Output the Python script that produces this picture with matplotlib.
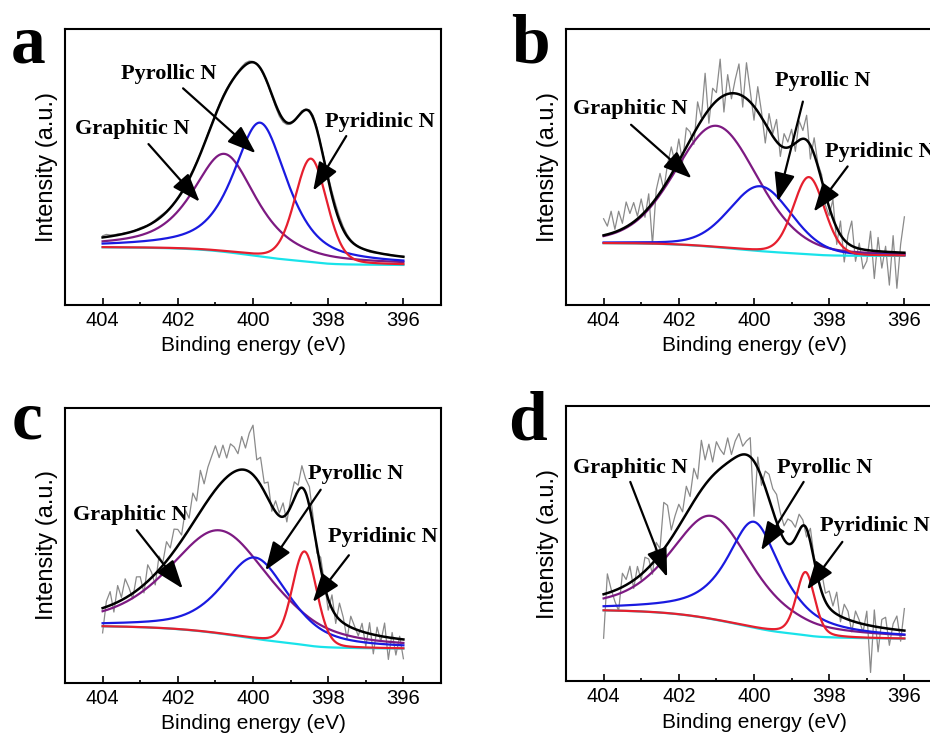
import numpy as np
import matplotlib.pyplot as plt

plt.rcParams['font.family'] = 'Liberation Sans'

# raw spectra are sampled every 0.1 eV from 404 down to 396 eV
be_raw = np.round(np.arange(404.0, 395.95, -0.1), 2)

letters = ["a", "b", "c", "d"]

# fitted components:
# centre (eV), height (a.u.), FWHM (eV), lorentzian fraction
graphitic_center = [400.76, 401.00, 400.87, 401.13]
graphitic_height = [35.5, 44.0, 37.5, 37.5]
graphitic_fwhm = [2.0, 2.6, 3.2, 2.6]
graphitic_eta = [0.7, 0.25, 0.55, 0.6]

pyrollic_center = [399.81, 399.83, 399.94, 400.0]
pyrollic_height = [48.5, 23.5, 29.5, 38.5]
pyrollic_fwhm = [1.7, 1.95, 2.1, 1.75]
pyrollic_eta = [0.7, 0.2, 0.6, 0.85]

pyridinic_center = [398.46, 398.54, 398.63, 398.63]
pyridinic_height = [37.5, 28.0, 34.0, 23.0]
pyridinic_fwhm = [1.0, 0.98, 0.76, 0.58]
pyridinic_eta = [0.2, 0.15, 0.15, 0.3]

# Shirley background level at 404 eV and at 396 eV
bg_high = [20.9, 22.4, 20.6, 25.8]
bg_low = [14.5, 17.8, 12.5, 15.5]

# raw counts minus fit envelope, 404.0 -> 396.0 eV
resid_a = [0.6, 0.9, 0.5, 0.3, 0.4, 0.2, 0.3, 0.1, 0.0, 0.2,
           0.4, 0.3, 0.1, 0.2, 0.4, 0.6, 0.5, 0.3, 0.2, 0.1,
           -0.3, -0.6, 0.2, 0.8, 0.5, 0.3, 0.1, 0.2, 0.4, 0.3,
           0.2, 0.4, 0.6, 0.5, 0.3, 0.2, 0.4, 0.6, 0.8, 0.6,
           0.3, 0.1, -0.2, -0.4, -0.3, -0.6, -0.9, -1.2, -1.0, -0.7,
           -0.5, -0.3, 0.2, 0.5, 0.3, 0.6, 0.9, 0.7, 0.4, 0.8,
           1.2, 1.6, 1.8, 1.5, 1.1, 0.7, 0.4, 0.2, 0.1, 0.0,
           -0.2, -0.4, -0.3, -0.1, 0.0, 0.1, 0.2, 0.1, 0.0, 0.1,
           0.2]
resid_b = [6, 3, 8, 1, 7, 2, 9, 4, 7, 1,
           6, -2, 5, -15, 3, 7, -1, 6, 10, 2,
           8, -3, 7, 3, -4, 9, 1, 15, -5, 6,
           3, 14, -6, 7, -2, 5, 11, -4, 13, 4,
           -5, 9, 2, -7, 6, 1, 8, -4, 5, 2,
           6, -3, 7, 3, 9, -5, 6, 1, 2, -4,
           -3, 7, -6, 5, -8, 3, 9, -5, 2, -7,
           -4, 7, -10, 5, -6, 2, -12, 6, -13, 3,
           13]
resid_c = [-9, 2, 5, -3, 6, 1, 7, 3, -2, 5,
           4, -3, 6, 2, -4, 5, 1, 7, 3, 8,
           6, 2, 9, 4, 11, 6, 15, 8, 12, 14,
           16, 10, 13, 7, 11, 9, 6, 12, 8, 14,
           18, 7, 10, 3, 6, -2, 4, 1, 5, -3,
           3, 6, 2, 8, 5, 7, 3, -2, 4, 1,
           -4, 5, -3, 6, 2, -5, 4, 1, -2, 3,
           -5, 4, -7, 3, -2, 5, -8, 2, -6, 1,
           -7]
resid_d = [-16, 7, 1, -4, -8, 5, 2, 6, -3, 4,
           -2, 5, 3, -4, 6, 2, 17, 14, 3, 6,
           8, 3, 10, 4, 12, 6, 18, 9, 13, 5,
           11, 7, 4, 9, 2, 6, 8, 3, 5, 7,
           -20, 4, -3, 6, 9, 8, 10, 7, 5, 9,
           8, 4, 6, 2, -3, 5, 1, 4, 7, 3,
           6, 2, 8, -2, 5, 3, -4, 4, 1, -3,
           5, -17, 6, -9, 3, 4, -6, 2, 5, -4,
           8]
residuals = [resid_a, resid_b, resid_c, resid_d]

# label text centre, arrow tail, arrow tip (eV, intensity)
graph_text = [(403.22, 63.7), (403.30, 71.0), (403.27, 60.9), (403.29, 77.7)]
graph_tail = [(402.78, 58.3), (403.27, 65.3), (403.09, 55.5), (403.29, 72.5)]
graph_tip = [(401.42, 37.4), (401.66, 45.9), (401.87, 34.3), (402.31, 37.9)]
pyrol_text = [(402.25, 83.7), (398.18, 81.0), (397.27, 76.0), (398.12, 77.7)]
pyrol_tail = [(401.86, 78.5), (398.70, 73.7), (398.20, 70.2), (398.68, 72.5)]
pyrol_tip = [(399.93, 55.0), (399.37, 37.5), (399.67, 40.9), (399.81, 47.6)]
pyrid_text = [(396.63, 66.4), (396.65, 55.6), (396.56, 53.0), (396.78, 56.4)]
pyrid_tail = [(397.52, 61.2), (397.51, 50.2), (397.45, 46.4), (397.65, 50.7)]
pyrid_tip = [(398.40, 41.4), (398.41, 33.8), (398.41, 29.4), (398.59, 33.3)]


def pseudo_voigt(x, c, h, w, eta):
    u = (x - c) / w
    return h * (eta / (1 + 4 * u**2) + (1 - eta) * np.exp(-4 * np.log(2) * u**2))


def draw_panel(ax, i):
    x = np.linspace(404, 396, 401)
    p1 = pseudo_voigt(x, graphitic_center[i], graphitic_height[i], graphitic_fwhm[i], graphitic_eta[i])
    p2 = pseudo_voigt(x, pyrollic_center[i], pyrollic_height[i], pyrollic_fwhm[i], pyrollic_eta[i])
    p3 = pseudo_voigt(x, pyridinic_center[i], pyridinic_height[i], pyridinic_fwhm[i], pyridinic_eta[i])
    total = p1 + p2 + p3
    # Shirley-type background: follows the integrated peak area
    cum = np.cumsum(total[::-1])[::-1]
    bg = bg_low[i] + (bg_high[i] - bg_low[i]) * cum / cum[0]
    env = bg + total

    raw = env[::5] + np.array(residuals[i])
    ax.plot(be_raw, raw, color="#8a8a8a", lw=0.9)
    ax.plot(x, bg, color="#19e3ea", lw=1.6)
    ax.plot(x, bg + p1, color="#7d1a82", lw=1.6)
    ax.plot(x, bg + p2, color="#1a1ae0", lw=1.6)
    ax.plot(x, bg + p3, color="#e61f2e", lw=1.6)
    ax.plot(x, env, color="black", lw=1.8)

    arrow = dict(arrowstyle="-|>,head_length=1.1,head_width=0.4", lw=1.6,
                 color="black", shrinkA=0, shrinkB=0, mutation_scale=16)
    for name, t, a0, a1 in [("Graphitic N", graph_text, graph_tail, graph_tip),
                            ("Pyrollic N", pyrol_text, pyrol_tail, pyrol_tip),
                            ("Pyridinic N", pyrid_text, pyrid_tail, pyrid_tip)]:
        ax.text(t[i][0], t[i][1], name, ha="center", va="center", fontsize=16,
                fontweight="bold", family="Liberation Serif")
        ax.annotate("", xy=a1[i], xytext=a0[i], arrowprops=arrow)

    ax.set_xlim(405, 395)
    ax.set_ylim(0, 100)
    ax.set_xticks([404, 402, 400, 398, 396])
    ax.set_xticks([403, 401, 399, 397], minor=True)
    ax.set_yticks([])
    ax.tick_params(axis="x", which="major", direction="in", length=5, width=1.2,
                   labelsize=14.5, pad=4)
    ax.tick_params(axis="x", which="minor", direction="in", length=2.5, width=1.2)
    for s in ax.spines.values():
        s.set_linewidth(1.5)
    ax.set_xlabel("Binding energy (eV)", fontsize=15, va="center")
    ax.xaxis.set_label_coords(0.5, -0.148)
    ax.set_ylabel("Intensity (a.u.)", fontsize=17, va="center")
    ax.yaxis.set_label_coords(-0.047, 0.5)


fig = plt.figure(figsize=(9.3, 7.34), dpi=100)
positions = [[0.0699, 0.5845, 0.4043, 0.3760],
             [0.6086, 0.5845, 0.4043, 0.3760],
             [0.0699, 0.0695, 0.4043, 0.3751],
             [0.6086, 0.0718, 0.4043, 0.3747]]
letter_xy = [(0.012, 0.915), (0.550, 0.915), (0.012, 0.403), (0.546, 0.401)]

for i in range(4):
    ax = fig.add_axes(positions[i])
    draw_panel(ax, i)
    fig.text(letter_xy[i][0], letter_xy[i][1], letters[i], fontsize=50,
             fontweight="bold", family="Liberation Serif", va="baseline")

fig.savefig("out.png", dpi=100)
